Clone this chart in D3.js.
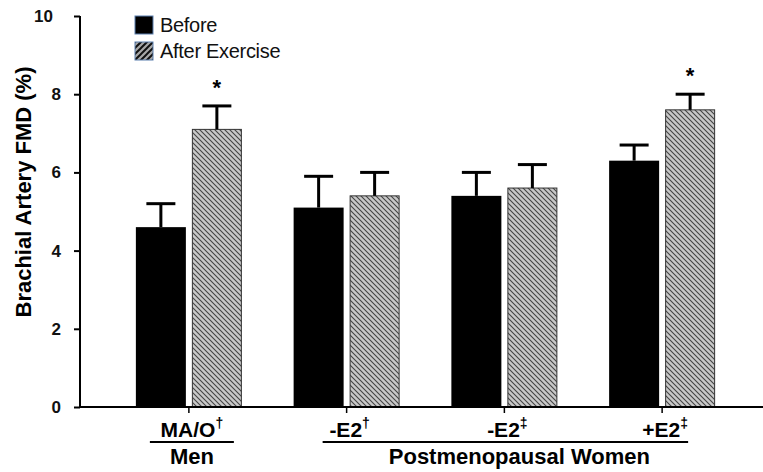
<!DOCTYPE html>
<html>
<head>
<meta charset="utf-8">
<script src="https://d3js.org/d3.v7.min.js"></script>
<style>
	body { margin: 0; background: #fff; }
	text { font-family: "Liberation Sans", Arial, sans-serif; }
</style>
</head>
<body>
<div id="chart"></div>
<script>
var groups = ["MA/O", "-E2", "-E2", "+E2"]
var groupMarks = ["\u2020", "\u2020", "\u2021", "\u2021"]
var before = [4.6, 5.1, 5.4, 6.3]
var beforeErr = [0.6, 0.8, 0.6, 0.4]
var after = [7.1, 5.4, 5.6, 7.6]
var afterErr = [0.6, 0.6, 0.6, 0.4]
var afterSignificant = [true, false, false, true]
var yTicks = [0, 2, 4, 6, 8, 10]
var seriesNames = ["Before", "After Exercise"]
var superGroups = ["Men", "Postmenopausal Women"]
var superFrom = [0, 1]
var superTo = [0, 3]

var width = 763
var height = 472

var svg = d3.select("#chart")
	.append("svg")
	.attr("width", width)
	.attr("height", height)

var defs = svg.append("defs")

// hatch for the bars: gray with dark "\" lines
var hatch = defs.append("pattern")
	.attr("id", "hatch")
	.attr("patternUnits", "userSpaceOnUse")
	.attr("width", 5)
	.attr("height", 5)
hatch.append("rect").attr("width", 5).attr("height", 5).attr("fill", "#c8c8c8")
hatch.append("path")
	.attr("d", "M0,0L5,5M-1,4L1,6M4,-1L6,1")
	.attr("stroke", "#444")
	.attr("stroke-width", 1.1)

// legend hatch: wider "/" stripes
var hatchL = defs.append("pattern")
	.attr("id", "hatchLegend")
	.attr("patternUnits", "userSpaceOnUse")
	.attr("width", 6)
	.attr("height", 6)
hatchL.append("rect").attr("width", 6).attr("height", 6).attr("fill", "#a8a8a8")
hatchL.append("path")
	.attr("d", "M0,6L6,0M-1,1L1,-1M5,7L7,5")
	.attr("stroke", "#111")
	.attr("stroke-width", 2)

var y = d3.scaleLinear().domain([0, 10]).range([407, 16])

var x = d3.scaleBand()
	.domain(d3.range(groups.length))
	.range([110, 741])
	.padding(0)

function cx(i){ return x(i) + x.bandwidth() / 2 }

var barW = 50
var gap = 3

// y axis
var yAxis = svg.append("g")
	.attr("transform", "translate(80,0)")
	.call(d3.axisLeft(y).tickValues(yTicks).tickSize(6).tickPadding(13))
yAxis.select(".domain").attr("stroke", "#000").attr("stroke-width", 2)
	.attr("d", "M0," + y(10) + "V" + y(0))
yAxis.selectAll(".tick line").attr("stroke", "#000").attr("stroke-width", 2)
yAxis.selectAll(".tick text")
	.attr("font-size", 17)
	.attr("font-weight", "bold")
	.attr("fill", "#111")
	.attr("dx", function(d){ return d == 10 ? -8 : 0 })

svg.append("text")
	.attr("transform", "translate(31," + 192 + ") rotate(-90)")
	.attr("text-anchor", "middle")
	.attr("font-size", 22)
	.attr("font-weight", "bold")
	.text("Brachial Artery FMD (%)")

// bars
var idx = d3.range(groups.length)

svg.selectAll(".before")
	.data(idx)
	.enter()
	.append("rect")
	.attr("class", "before")
	.attr("x", function(i){ return cx(i) - gap - barW })
	.attr("y", function(i){ return y(before[i]) })
	.attr("width", barW)
	.attr("height", function(i){ return y(0) - y(before[i]) })
	.attr("fill", "#000")

svg.selectAll(".after")
	.data(idx)
	.enter()
	.append("rect")
	.attr("class", "after")
	.attr("x", function(i){ return cx(i) + gap + 0.5 })
	.attr("y", function(i){ return y(after[i]) })
	.attr("width", barW - 1)
	.attr("height", function(i){ return y(0) - y(after[i]) })
	.attr("fill", "url(#hatch)")
	.attr("stroke", "#333")
	.attr("stroke-width", 1)

// error bars
function errorBars(vals, errs, offset, cls){
	var g = svg.selectAll("." + cls)
		.data(idx)
		.enter()
		.append("g")
		.attr("class", cls)
	g.append("line")
		.attr("x1", function(i){ return cx(i) + offset })
		.attr("x2", function(i){ return cx(i) + offset })
		.attr("y1", function(i){ return y(vals[i]) })
		.attr("y2", function(i){ return y(vals[i] + errs[i]) })
		.attr("stroke", "#000")
		.attr("stroke-width", 3)
	g.append("line")
		.attr("x1", function(i){ return cx(i) + offset - 14.5 })
		.attr("x2", function(i){ return cx(i) + offset + 14.5 })
		.attr("y1", function(i){ return y(vals[i] + errs[i]) })
		.attr("y2", function(i){ return y(vals[i] + errs[i]) })
		.attr("stroke", "#000")
		.attr("stroke-width", 3)
}
errorBars(before, beforeErr, -gap - barW / 2, "errBefore")
errorBars(after, afterErr, gap + barW / 2, "errAfter")

// significance stars
svg.selectAll(".star")
	.data(idx.filter(function(i){ return afterSignificant[i] }))
	.enter()
	.append("text")
	.attr("class", "star")
	.attr("x", function(i){ return cx(i) + gap + barW / 2 })
	.attr("y", function(i){ return y(after[i] + afterErr[i]) - 11 })
	.attr("text-anchor", "middle")
	.attr("font-size", 22)
	.attr("font-weight", "bold")
	.text("*")

// x axis
svg.append("line")
	.attr("x1", 80).attr("x2", width)
	.attr("y1", y(0)).attr("y2", y(0))
	.attr("stroke", "#000").attr("stroke-width", 2)

svg.selectAll(".xtick")
	.data(idx)
	.enter()
	.append("line")
	.attr("class", "xtick")
	.attr("x1", cx).attr("x2", cx)
	.attr("y1", y(0)).attr("y2", y(0) + 6)
	.attr("stroke", "#000").attr("stroke-width", 1.5)

var xl = svg.selectAll(".xlabel")
	.data(idx)
	.enter()
	.append("text")
	.attr("class", "xlabel")
	.attr("x", function(i){ return cx(i) + 3 })
	.attr("y", 437)
	.attr("text-anchor", "middle")
	.attr("font-size", 21)
	.attr("font-weight", "bold")
xl.append("tspan").text(function(i){ return groups[i] })
xl.append("tspan")
	.attr("font-size", 14)
	.attr("dy", -9)
	.text(function(i){ return groupMarks[i] })

// group underlines and names
var lineLeft = [-39, -24]
var lineRight = [45, 26]
var sg = svg.selectAll(".super")
	.data(d3.range(superGroups.length))
	.enter()
	.append("g")
	.attr("class", "super")
sg.append("line")
	.attr("x1", function(k){ return cx(superFrom[k]) + lineLeft[k] })
	.attr("x2", function(k){ return cx(superTo[k]) + lineRight[k] })
	.attr("y1", 442).attr("y2", 442)
	.attr("stroke", "#000").attr("stroke-width", 2)
sg.append("text")
	.attr("x", function(k){ return (cx(superFrom[k]) + lineLeft[k] + cx(superTo[k]) + lineRight[k]) / 2 + (k == 1 ? 14 : 0) })
	.attr("y", 464)
	.attr("text-anchor", "middle")
	.attr("font-size", 22)
	.attr("font-weight", "bold")
	.text(function(k){ return superGroups[k] })

// legend
var legend = svg.append("g").attr("transform", "translate(135,16)")
var fills = ["#000", "url(#hatchLegend)"]
var li = legend.selectAll("g")
	.data(seriesNames)
	.enter()
	.append("g")
	.attr("transform", function(d, i){ return "translate(0," + (i * 26) + ")" })
li.append("rect")
	.attr("width", 18).attr("height", 18)
	.attr("fill", function(d, i){ return fills[i] })
	.attr("stroke", "#5b7fae")
	.attr("stroke-width", 1)
li.append("text")
	.attr("x", 25)
	.attr("y", 16)
	.attr("font-size", 20)
	.attr("letter-spacing", -0.3)
	.attr("fill", "#111")
	.text(function(d){ return d })
</script>
</body>
</html>
